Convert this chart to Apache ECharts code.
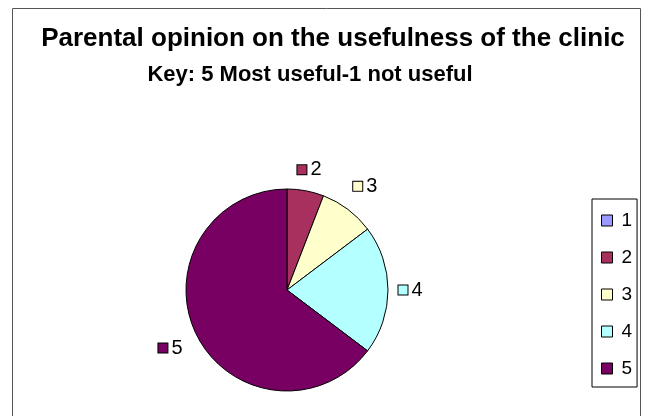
<!DOCTYPE html>
<html>
<head>
<meta charset="utf-8">
<script src="https://cdn.jsdelivr.net/npm/echarts@6/dist/echarts.min.js"></script>
<style>
  html, body { margin: 0; padding: 0; background: #fff; }
  #chart { width: 651px; height: 416px; }
</style>
</head>
<body>
<div id="chart"></div>
<script>
// rating categories (5 = most useful, 1 = not useful)
const ratings = ['1', '2', '3', '4', '5'];
// number of parents per rating
const counts = [0, 2, 3, 7, 22];
const colors = ['#9999FF', '#A8305F', '#FFFFCC', '#B4FFFF', '#780062'];

const titleLine1 = 'Parental opinion on the usefulness of the clinic';
const titleLine2 = 'Key: 5 Most useful-1 not useful';

const CX = 287, CY = 290, R = 101;

// little coloured key boxes used inside the slice labels
const rich = { t: { fontSize: 20, color: '#000', fontFamily: 'Liberation Sans', padding: [0, 0, 0, 4] } };
colors.forEach((c, i) => {
    rich['b' + i] = { width: 9, height: 9, backgroundColor: c, borderColor: '#000', borderWidth: 1 };
});

// mid angle of each slice (clockwise from 12 o'clock), used to put labels like Excel does
const total = counts.reduce((a, b) => a + b, 0);
function midAngle(i) {
    let before = 0;
    for (let k = 0; k < i; k++) before += counts[k];
    return (before + counts[i] / 2) / total * Math.PI * 2;
}

const chart = echarts.init(document.getElementById('chart'));
chart.setOption({
    animation: false,
    backgroundColor: '#fff',
    color: colors,
    textStyle: { fontFamily: 'Liberation Sans' },
    title: [
        { text: titleLine1, left: 328, top: 21, textAlign: 'center',
          textStyle: { fontSize: 26, fontWeight: 'bold', color: '#000', fontFamily: 'Liberation Sans' } },
        { text: titleLine2, left: 305, top: 59, textAlign: 'center',
          textStyle: { fontSize: 22, fontWeight: 'bold', color: '#000', fontFamily: 'Liberation Sans' } }
    ],
    graphic: [{
        type: 'rect', silent: true, z: -1,
        shape: { x: 12.5, y: 8.5, width: 628, height: 430 },
        style: { fill: 'none', stroke: '#555', lineWidth: 1 }
    }],
    legend: {
        orient: 'vertical', left: 592, top: 199,
        data: ratings,
        borderColor: '#000', borderWidth: 1,
        padding: [12, 5, 9, 9],
        itemWidth: 11, itemHeight: 11, itemGap: 18,
        icon: 'rect',
        itemStyle: { borderColor: '#000', borderWidth: 1 },
        textStyle: { fontSize: 19, color: '#000', lineHeight: 19, padding: [0, 0, 0, 4] }
    },
    series: [{
        type: 'pie',
        center: [CX, CY], radius: R,
        startAngle: 90, clockwise: true,
        avoidLabelOverlap: false,
        itemStyle: { borderColor: '#000', borderWidth: 1 },
        label: {
            position: 'outside',
            fontSize: 20,
            formatter: p => `{b${p.dataIndex}|}{t|${p.name}}`,
            rich: rich
        },
        labelLine: { show: false },
        labelLayout: p => {
            const a = midAngle(p.dataIndex);
            const sx = Math.sin(a), cy = -Math.cos(a);
            const w = p.labelRect.width, h = p.labelRect.height;
            const d = R + 10 + Math.abs(sx) * w / 2 + Math.abs(cy) * (h / 2 - 3) + 12 * Math.abs(sx * cy);
            return { x: CX + sx * d, y: CY + cy * d, align: 'center', verticalAlign: 'middle' };
        },
        emphasis: { disabled: true },
        data: ratings.map((r, i) => ({
            name: r, value: counts[i],
            label: { show: counts[i] > 0 }
        }))
    }]
});
</script>
</body>
</html>
